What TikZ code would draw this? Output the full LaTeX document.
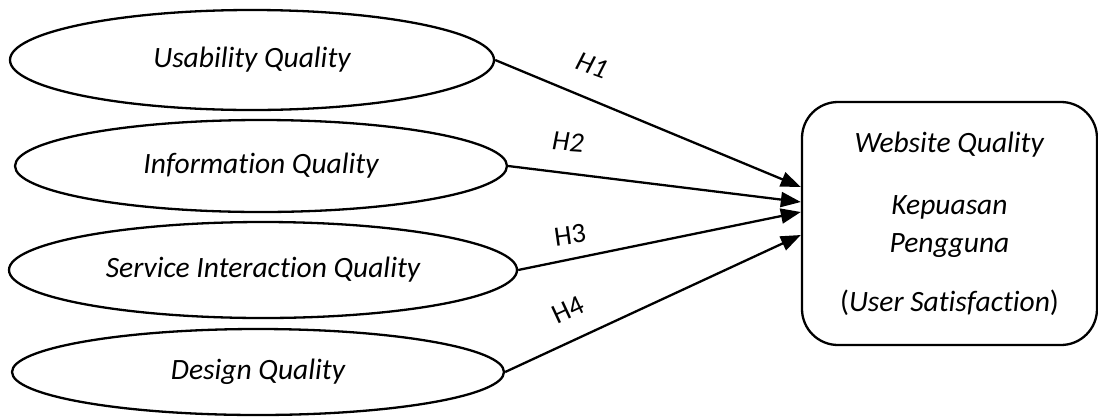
\documentclass[tikz,border=0pt]{standalone}
\usepackage{fontspec}
\setmainfont{Carlito}[Ligatures=NoCommon]
\usetikzlibrary{shapes.geometric,arrows.meta}
\tikzset{
  construct/.style={draw, ellipse, line width=2.3pt, inner sep=0pt, font=\fontsize{29.5}{34}\selectfont\itshape},
  outcome/.style={draw, rectangle, rounded corners=36pt, line width=2.3pt, inner sep=0pt, align=center, font=\fontsize{29.5}{38}\selectfont},
  link/.style={line width=2.3pt, -{Triangle[length=20pt,width=15pt]}},
  hlabel/.style={font=\fontsize{28}{30}\selectfont, inner sep=0pt}
}
\begin{document}
\begin{tikzpicture}[x=1pt,y=-1pt]
\useasboundingbox (0,0) rectangle (1098,416);
\node[construct, minimum width=484, minimum height=100] (u) at (252,60) {Usability Quality};
\node[construct, minimum width=492, minimum height=92] (i) at (261,166) {Information Quality};
\node[construct, minimum width=508, minimum height=96] (s) at (263,270) {Service Interaction Quality};
\node[construct, minimum width=492, minimum height=86] (d) at (258,372) {Design Quality};
\node[outcome, minimum width=295, minimum height=243] (r) at (949.5,223.5)
  {\textit{Website Quality}\\[24pt]\textit{Kepuasan}\\\textit{Pengguna}\\[21pt](\textit{User Satisfaction})};
\draw[link] (u.east) -- ([yshift=36.5pt]r.west);
\draw[link] (i.east) -- ([yshift=21.5pt]r.west);
\draw[link] (s.east) -- ([yshift=11.5pt]r.west);
\draw[link] (d.east) -- ([yshift=-11.5pt]r.west);
\node[hlabel, rotate=-20] (h1) at (592,65) {\textit{H1}};
\node[hlabel, rotate=-4] (h2) at (568,142) {\textit{H2}};
\node[hlabel, rotate=8] (h3) at (570,235) {H3};
\node[hlabel, rotate=25] (h4) at (568,310) {H4};
\end{tikzpicture}
\end{document}
